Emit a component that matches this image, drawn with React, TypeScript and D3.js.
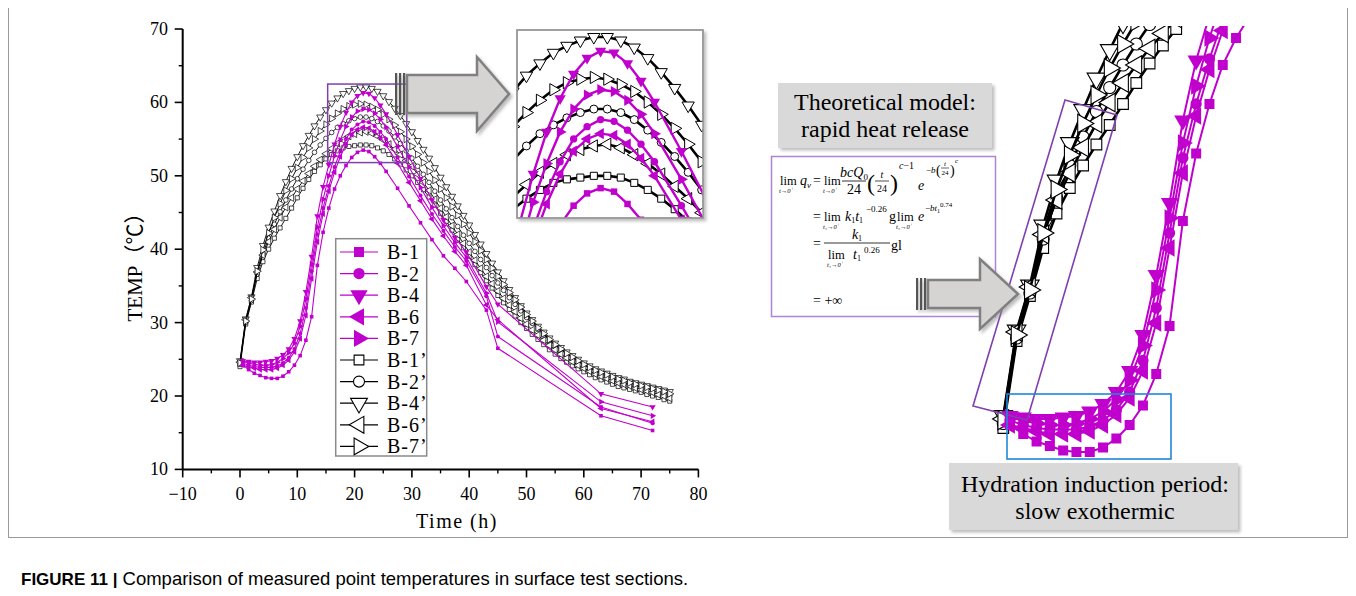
import React from "react";
import * as d3 from "d3";

// sampling times (h)
const blackTime = [0, 1, 2, 3, 4, 5, 6, 7, 8, 9, 10, 11, 12, 13, 14, 15, 16, 17, 18, 19, 20, 21, 22, 23, 24, 25, 26, 27, 28, 29, 30, 31, 32, 33, 34, 35, 36, 37, 38, 39, 40, 41, 42, 43, 44, 45, 46, 47, 48, 49, 50, 51, 52, 53, 54, 55, 56, 57, 58, 59, 60, 61, 62, 63, 64, 65, 66, 67, 68, 69, 70, 71, 72, 73, 74, 75];
const magentaTime = [0.5, 1.5, 2.5, 3.5, 4.5, 5.5, 6.5, 7.5, 8.5, 9.5, 10.5, 11.5, 12.5, 13.5, 14.5, 15.5, 16.5, 17.5, 18.5, 19.5, 20.5, 21.5, 22.5, 23.5, 24.5, 25.5, 27.5, 29.5, 31.5, 33.5, 35.5, 37.5, 39.5, 43, 45, 63, 72];

// measured (magenta) series
const b1 = [24.2, 23.6, 23.1, 22.8, 22.5, 22.4, 22.4, 22.7, 23.3, 24.2, 25.5, 27.6, 30.8, 37.8, 42.3, 45.6, 48.2, 50.0, 51.4, 52.5, 53.2, 53.5, 53.3, 52.6, 51.7, 50.6, 48.3, 45.9, 43.6, 41.3, 39.1, 37.4, 35.6, 31.7, 26.5, 17.3, 15.3];
const b2 = [24.5, 24.2, 24.0, 23.9, 23.9, 23.9, 24.1, 24.5, 25.2, 26.4, 28.5, 32.0, 37.0, 42.0, 45.6, 48.6, 51.2, 53.3, 55.0, 56.3, 57.0, 57.4, 57.3, 56.8, 56.0, 55.0, 52.5, 49.9, 47.3, 44.8, 42.5, 40.3, 38.4, 33.6, 28.1, 18.5, 16.3];
const b4 = [24.8, 24.7, 24.6, 24.6, 24.7, 24.8, 25.1, 25.6, 26.4, 27.8, 30.2, 34.2, 39.0, 44.5, 48.5, 51.5, 54.3, 56.7, 58.6, 60.0, 60.9, 61.3, 61.2, 60.6, 59.6, 58.4, 55.6, 52.6, 49.6, 46.7, 44.0, 41.6, 39.6, 34.9, 32.5, 20.3, 18.5];
const b6 = [24.2, 24.0, 23.8, 23.6, 23.6, 23.6, 23.8, 24.2, 24.9, 26.0, 27.8, 31.0, 36.0, 41.0, 44.8, 47.9, 50.5, 52.6, 54.3, 55.6, 56.3, 56.6, 56.5, 56.0, 55.2, 54.2, 51.7, 49.1, 46.6, 44.1, 41.8, 39.7, 37.8, 32.4, 30.4, 18.3, 16.5];
const b7 = [24.7, 24.5, 24.3, 24.2, 24.2, 24.3, 24.6, 25.1, 25.9, 27.2, 29.5, 33.2, 38.0, 43.0, 46.8, 50.0, 52.7, 54.9, 56.7, 58.0, 58.8, 59.1, 59.0, 58.5, 57.7, 56.6, 54.0, 51.2, 48.4, 45.7, 43.2, 40.9, 38.9, 34.0, 30.1, 19.2, 17.3];

// simulated (black) series
const b1p = [24.0, 29.8, 32.8, 36.0, 38.3, 40.0, 41.5, 42.9, 44.2, 45.6, 47.0, 48.3, 49.5, 50.6, 51.5, 52.3, 52.9, 53.4, 53.8, 54.0, 54.1, 54.2, 54.2, 54.1, 53.8, 53.4, 52.9, 52.3, 51.6, 50.8, 50.0, 49.1, 48.1, 47.1, 46.0, 44.9, 43.8, 42.6, 41.4, 40.2, 39.0, 37.9, 36.8, 35.7, 34.7, 33.7, 32.7, 31.8, 30.9, 30.0, 29.2, 28.4, 27.7, 27.0, 26.3, 25.7, 25.1, 24.6, 24.1, 23.7, 23.3, 22.9, 22.5, 22.2, 21.9, 21.6, 21.3, 21.1, 20.9, 20.7, 20.5, 20.2, 20.0, 19.8, 19.5, 19.3];
const b2p = [24.3, 30.0, 33.0, 36.6, 39.4, 41.5, 43.4, 45.1, 46.7, 48.2, 49.6, 50.9, 52.1, 53.2, 54.2, 55.1, 55.9, 56.6, 57.1, 57.5, 57.8, 58.0, 58.0, 57.8, 57.4, 56.8, 56.1, 55.3, 54.4, 53.4, 52.4, 51.3, 50.2, 49.1, 47.9, 46.7, 45.5, 44.3, 43.1, 41.9, 40.8, 39.7, 38.6, 37.5, 36.4, 35.4, 34.4, 33.4, 32.5, 31.6, 30.7, 29.9, 29.1, 28.3, 27.6, 26.9, 26.3, 25.7, 25.2, 24.7, 24.2, 23.8, 23.4, 23.0, 22.7, 22.4, 22.1, 21.8, 21.6, 21.4, 21.2, 21.0, 20.8, 20.5, 20.3, 20.0];
const b4p = [24.8, 30.5, 33.5, 37.5, 40.5, 43.0, 45.2, 47.3, 49.2, 51.0, 52.6, 54.1, 55.5, 56.8, 58.0, 59.0, 59.9, 60.6, 61.2, 61.6, 61.9, 62.1, 62.1, 61.9, 61.5, 60.9, 60.1, 59.2, 58.2, 57.1, 56.0, 54.8, 53.6, 52.4, 51.1, 49.8, 48.5, 47.2, 45.9, 44.6, 43.3, 42.0, 40.7, 39.4, 38.1, 36.9, 35.7, 34.5, 33.4, 32.3, 31.3, 30.4, 29.5, 28.7, 27.9, 27.2, 26.6, 26.0, 25.5, 25.0, 24.5, 24.1, 23.7, 23.4, 23.1, 22.8, 22.5, 22.3, 22.0, 21.8, 21.6, 21.4, 21.2, 21.0, 20.8, 20.6];
const b6p = [24.6, 30.4, 33.4, 36.9, 39.2, 41.0, 42.7, 44.3, 45.7, 47.0, 48.2, 49.3, 50.3, 51.3, 52.2, 53.0, 53.7, 54.4, 54.9, 55.4, 55.7, 55.9, 56.0, 55.8, 55.4, 54.9, 54.3, 53.6, 52.9, 52.1, 51.3, 50.2, 49.1, 48.0, 46.8, 45.6, 44.4, 43.2, 42.0, 40.8, 39.6, 38.5, 37.4, 36.3, 35.3, 34.3, 33.3, 32.4, 31.5, 30.6, 29.8, 29.0, 28.3, 27.6, 26.9, 26.3, 25.7, 25.2, 24.7, 24.2, 23.8, 23.4, 23.0, 22.7, 22.4, 22.1, 21.8, 21.6, 21.4, 21.1, 20.9, 20.7, 20.5, 20.2, 20.0, 19.7];
const b7p = [24.5, 30.2, 33.2, 37.0, 39.9, 42.2, 44.3, 46.2, 48.0, 49.6, 51.1, 52.5, 53.8, 55.0, 56.1, 57.0, 57.8, 58.5, 59.1, 59.5, 59.7, 59.8, 59.7, 59.4, 59.0, 58.4, 57.7, 56.9, 56.0, 55.0, 54.0, 52.9, 51.8, 50.6, 49.4, 48.2, 47.0, 45.8, 44.6, 43.4, 42.2, 41.0, 39.8, 38.6, 37.4, 36.3, 35.2, 34.1, 33.1, 32.1, 31.1, 30.2, 29.3, 28.5, 27.7, 27.0, 26.4, 25.8, 25.3, 24.8, 24.3, 23.9, 23.5, 23.2, 22.9, 22.6, 22.3, 22.1, 21.8, 21.6, 21.4, 21.2, 21.0, 20.8, 20.6, 20.3];

const xTicks = [-10, 0, 10, 20, 30, 40, 50, 60, 70, 80];
const yTicks = [10, 20, 30, 40, 50, 60, 70];
const zoomT = [15.3, 29.1];
const zoomTemp = [51.8, 62.5];

const MAG = "#C000CC";
const VIO = "#7F3FB0";
const SERIF = "'Liberation Serif', 'Times New Roman', serif";

type Shape = "square" | "circle" | "down" | "left" | "right";
type Series = { name: string; t: number[]; v: number[]; shape: Shape; filled: boolean };

const series: Series[] = [
  { name: "B-1", t: magentaTime, v: b1, shape: "square", filled: true },
  { name: "B-2", t: magentaTime, v: b2, shape: "circle", filled: true },
  { name: "B-4", t: magentaTime, v: b4, shape: "down", filled: true },
  { name: "B-6", t: magentaTime, v: b6, shape: "left", filled: true },
  { name: "B-7", t: magentaTime, v: b7, shape: "right", filled: true },
  { name: "B-1’", t: blackTime, v: b1p, shape: "square", filled: false },
  { name: "B-2’", t: blackTime, v: b2p, shape: "circle", filled: false },
  { name: "B-4’", t: blackTime, v: b4p, shape: "down", filled: false },
  { name: "B-6’", t: blackTime, v: b6p, shape: "left", filled: false },
  { name: "B-7’", t: blackTime, v: b7p, shape: "right", filled: false },
];

const symPath = (shape: Shape, size: number) => {
  const type = shape === "square" ? d3.symbolSquare : shape === "circle" ? d3.symbolCircle : d3.symbolTriangle;
  const sz = shape === "square" || shape === "circle" ? size : size * 1.3;
  return d3.symbol().type(type).size(sz)() as string;
};
const rotOf = (shape: Shape) => (shape === "down" ? 180 : shape === "left" ? -90 : shape === "right" ? 90 : 0);

type CurveOpts = {
  xs: d3.ScaleLinear<number, number>;
  ys: d3.ScaleLinear<number, number>;
  lw: number; bw: number; ms: number; bms: number; bsw: number; clip?: string;
};

function Curves({ xs, ys, lw, bw, ms, bms, bsw, clip }: CurveOpts) {
  const order = [...series.filter((s) => !s.filled), ...series.filter((s) => s.filled)];
  const line = d3.line<[number, number]>();
  return (
    <g clipPath={clip}>
      {order.map((s) => {
        const pts = s.t.map((t, i) => [xs(t), ys(s.v[i])] as [number, number]);
        const col = s.filled ? MAG : "#000";
        const p = symPath(s.shape, s.filled ? ms : bms);
        return (
          <g key={s.name}>
            <path d={line(pts) || ""} fill="none" stroke={col} strokeWidth={s.filled ? lw : bw} />
            {pts.map(([x, y], i) => (
              <path key={i} d={p} transform={`translate(${x},${y}) rotate(${rotOf(s.shape)})`}
                fill={s.filled ? MAG : "#fff"} stroke={s.filled ? "none" : "#000"} strokeWidth={bsw} />
            ))}
          </g>
        );
      })}
    </g>
  );
}

function Arrow({ x0, x1, x2, cy, sh, hh }: { x0: number; x1: number; x2: number; cy: number; sh: number; hh: number }) {
  const pts = [
    [x0, cy - sh], [x1, cy - sh], [x1, cy - hh], [x2, cy], [x1, cy + hh], [x1, cy + sh], [x0, cy + sh],
  ].map((p) => p.join(",")).join(" ");
  return (
    <g filter="url(#shadow)">
      <polygon points={pts} fill="#d6d3d3" stroke="#808080" strokeWidth={2.5} strokeLinejoin="miter" />
      {[-12, -8, -4].map((d) => (
        <rect key={d} x={x0 + d} y={cy - sh - 2} width={2.2} height={2 * sh + 4} fill="#555" />
      ))}
    </g>
  );
}

const Lim = ({ x, y, sub }: { x: number; y: number; sub: string }) => (
  <g>
    <text x={x} y={y} fontSize={12.5}>lim</text>
    <text x={x - 1} y={y + 8} fontSize={6.5} fontStyle="italic">{sub}→0<tspan dy={-3} fontSize={5}>+</tspan></text>
  </g>
);

export default function App() {
  const x = d3.scaleLinear().domain([-10, 80]).range([182.7, 698.4]);
  const y = d3.scaleLinear().domain([10, 70]).range([469.4, 29]);
  const xi = d3.scaleLinear().domain(zoomT).range([517, 703]);
  const yi = d3.scaleLinear().domain(zoomTemp).range([218, 30]);
  const xr = d3.scaleLinear().domain([0, 10]).range([1003.3, 1136.3]);
  const yr = d3.scaleLinear().domain([20, 40]).range([488, 188]);

  const minorX = xTicks.slice(0, -1).map((t) => t + 5);
  const minorY = yTicks.slice(0, -1).map((t) => t + 5);

  return (
    <svg width={1340} height={588} style={{ display: "block" }} fontFamily={SERIF}>
      <defs>
        <clipPath id="clipInset"><rect x={517} y={30} width={186} height={188} /></clipPath>
        <clipPath id="clipRight"><rect x={985} y={26} width={260} height={444} /></clipPath>
        <filter id="shadow" x="-20%" y="-20%" width="140%" height="140%">
          <feDropShadow dx={2.5} dy={2.5} stdDeviation={1.8} floodColor="#888" floodOpacity={0.55} />
        </filter>
      </defs>
      <g transform="translate(-8,-8)">
        <rect x={8.5} y={6.5} width={1339} height={531} fill="#fff" stroke="#9a9a9a" strokeWidth={1} />

        {/* main chart */}
        <Curves xs={x} ys={y} lw={1.1} bw={0.9} ms={13} bms={17} bsw={0.7} />

        {/* axes */}
        <line x1={x(-10)} x2={x(-10)} y1={y(70)} y2={y(10)} stroke="#000" strokeWidth={2} />
        <line x1={x(-10)} x2={x(80)} y1={y(10)} y2={y(10)} stroke="#000" strokeWidth={2} />
        {yTicks.map((t) => (
          <g key={t}>
            <line x1={x(-10) - 8} x2={x(-10)} y1={y(t)} y2={y(t)} stroke="#000" strokeWidth={1.6} />
            <text x={168} y={y(t) + 6} fontSize={18} textAnchor="end">{t}</text>
          </g>
        ))}
        {minorY.map((t) => (
          <line key={t} x1={x(-10) - 4} x2={x(-10)} y1={y(t)} y2={y(t)} stroke="#000" strokeWidth={1.4} />
        ))}
        {xTicks.map((t) => (
          <g key={t}>
            <line x1={x(t)} x2={x(t)} y1={y(10)} y2={y(10) + 8} stroke="#000" strokeWidth={1.6} />
            <text x={x(t)} y={500} fontSize={18} textAnchor="middle">{t < 0 ? "−" + Math.abs(t) : t}</text>
          </g>
        ))}
        {minorX.map((t) => (
          <line key={t} x1={x(t)} x2={x(t)} y1={y(10)} y2={y(10) + 4} stroke="#000" strokeWidth={1.4} />
        ))}
        <text x={457} y={528} fontSize={20} textAnchor="middle" letterSpacing={1.5}>Time (h)</text>
        <text transform="translate(142,262) rotate(-90)" fontSize={21} textAnchor="middle"
          fontFamily="'Liberation Serif', 'Noto Sans CJK SC', serif">TEMP（℃）</text>

        {/* legend */}
        <rect x={335.7} y={238.7} width={91} height={217.3} fill="#fff" stroke="#8a8a8a" strokeWidth={1.5} />
        {series.map((s, i) => {
          const ly = 252 + i * 21.6;
          const col = s.filled ? MAG : "#000";
          return (
            <g key={s.name}>
              <line x1={340} x2={378} y1={ly} y2={ly} stroke={col} strokeWidth={1.2} />
              <path d={symPath(s.shape, s.filled ? 100 : 95)}
                transform={`translate(359,${ly}) rotate(${rotOf(s.shape)})`}
                fill={s.filled ? MAG : "#fff"} stroke={s.filled ? "none" : "#000"} strokeWidth={1.1} />
              <text x={387} y={ly + 7} fontSize={20} letterSpacing={1}>{s.name}</text>
            </g>
          );
        })}

        {/* zoom window on main chart */}
        <rect x={x(zoomT[0])} y={y(zoomTemp[1])} width={x(zoomT[1]) - x(zoomT[0])}
          height={y(zoomTemp[0]) - y(zoomTemp[1])} fill="none" stroke={VIO} strokeWidth={1.5} />
        <Arrow x0={407} x1={477} x2={509} cy={94} sh={19} hh={37} />

        {/* inset */}
        <rect x={517} y={30} width={186} height={188} fill="#fff" stroke="#9a9a9a" strokeWidth={1.5} filter="url(#shadow)" />
        <Curves xs={xi} ys={yi} lw={2.4} bw={2.6} ms={42} bms={50} bsw={1} clip="url(#clipInset)" />
        <rect x={517} y={30} width={186} height={188} fill="none" stroke="#9a9a9a" strokeWidth={1.5} />

        {/* right panel */}
        <Curves xs={xr} ys={yr} lw={2} bw={2.6} ms={100} bms={115} bsw={1.1} clip="url(#clipRight)" />
        <polygon points="1065,100 1117,115 1027,420 973,406" fill="none" stroke={VIO} strokeWidth={1.6} />
        <rect x={1007} y={394} width={164} height={65} fill="none" stroke="#1E88D8" strokeWidth={1.6} />

        <rect x={778} y={83} width={214} height={65} fill="#d9d9d9" filter="url(#shadow)" />
        <text x={885} y={110} fontSize={24} textAnchor="middle">Theoretical model:</text>
        <text x={885} y={137} fontSize={24} textAnchor="middle">rapid heat release</text>

        <rect x={949} y={463} width={289} height={67} fill="#d9d9d9" filter="url(#shadow)" />
        <text x={1095} y={492} fontSize={24} textAnchor="middle">Hydration induction period:</text>
        <text x={1095} y={519} fontSize={24} textAnchor="middle">slow exothermic</text>

        {/* formula */}
        <rect x={771.5} y={156.5} width={224} height={160} fill="#fff" stroke="#B083D0" strokeWidth={1.5} />
        <g fontSize={14}>
          <Lim x={780} y={185} sub="t" />
          <text x={800} y={185} fontStyle="italic">q<tspan dy={3} fontSize={9}>v</tspan></text>
          <text x={813} y={185}>=</text>
          <Lim x={824} y={185} sub="t" />
          <text x={854} y={177} textAnchor="middle" fontStyle="italic">bcQ<tspan dy={3} fontSize={9} fontStyle="normal">0</tspan></text>
          <line x1={842} x2={866} y1={181} y2={181} stroke="#000" strokeWidth={0.8} />
          <text x={854} y={194} textAnchor="middle">24</text>
          <text x={867} y={191} fontSize={24}>(</text>
          <text x={882} y={178} fontSize={10} textAnchor="middle" fontStyle="italic">t</text>
          <line x1={875} x2={889} y1={181} y2={181} stroke="#000" strokeWidth={0.7} />
          <text x={882} y={192} fontSize={10} textAnchor="middle">24</text>
          <text x={890} y={191} fontSize={24}>)</text>
          <text x={899} y={169} fontSize={10} fontStyle="italic">c<tspan fontStyle="normal">−1</tspan></text>
          <text x={918} y={190} fontStyle="italic">e</text>
          <text x={926} y={173} fontSize={9}>−<tspan fontStyle="italic">b</tspan></text>
          <text x={936} y={175} fontSize={14}>(</text>
          <text x={945} y={166} fontSize={7} textAnchor="middle" fontStyle="italic">t</text>
          <line x1={941} x2={949} y1={168} y2={168} stroke="#000" strokeWidth={0.6} />
          <text x={945} y={175} fontSize={7} textAnchor="middle">24</text>
          <text x={950} y={175} fontSize={14}>)</text>
          <text x={955} y={163} fontSize={7} fontStyle="italic">c</text>

          <text x={813} y={221}>=</text>
          <Lim x={824} y={221} sub="t₁" />
          <text x={845} y={221} fontStyle="italic">k<tspan dy={2} fontSize={8} fontStyle="normal">1</tspan><tspan dy={-2}>t</tspan><tspan dy={2} fontSize={8} fontStyle="normal">1</tspan></text>
          <text x={866} y={212} fontSize={9}>−0.26</text>
          <text x={889} y={221}>g</text>
          <Lim x={897} y={221} sub="t₁" />
          <text x={918} y={221} fontStyle="italic">e</text>
          <text x={925} y={211} fontSize={9}>−<tspan fontStyle="italic">bt</tspan><tspan dy={2} fontSize={6}>1</tspan><tspan dy={-6} fontSize={7}>0.74</tspan></text>

          <text x={813} y={248}>=</text>
          <text x={857} y={239} textAnchor="middle" fontStyle="italic">k<tspan dy={2} fontSize={8} fontStyle="normal">1</tspan></text>
          <line x1={824} x2={890} y1={243} y2={243} stroke="#000" strokeWidth={0.8} />
          <Lim x={828} y={259} sub="t₁" />
          <text x={853} y={259} fontStyle="italic">t<tspan dy={2} fontSize={8} fontStyle="normal">1</tspan></text>
          <text x={864} y={253} fontSize={9}>0.26</text>
          <text x={891} y={250}>gl</text>

          <text x={813} y={305}>= +∞</text>
        </g>
        <Arrow x0={928} x1={980} x2={1018} cy={294} sh={14} hh={35} />

        <text x={21} y={585} fontSize={17} fontFamily="'Liberation Sans', Arial, sans-serif">
          <tspan fontWeight="bold">FIGURE 11 |</tspan>
          <tspan fontSize={18.5}> Comparison of measured point temperatures in surface test sections.</tspan>
        </text>
      </g>
    </svg>
  );
}
